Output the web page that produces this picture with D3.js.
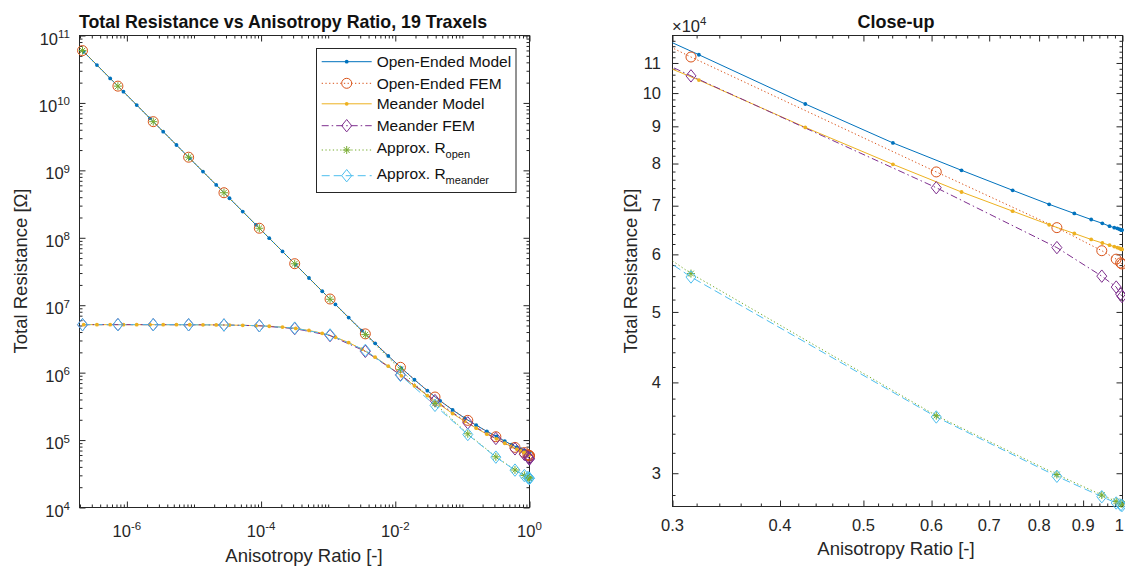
<!DOCTYPE html>
<html><head><meta charset="utf-8">
<script src="https://cdn.jsdelivr.net/npm/d3@7"></script>
<style>
body{margin:0;background:#fff}
svg{display:block}
text{font-family:"Liberation Sans",Arial,Helvetica,sans-serif}
</style>
</head><body>
<svg id="chart" width="1125" height="567"></svg>
<script>
// ---------------- data ----------------
const xModel = [2.272e-7, 3.580e-7, 5.642e-7, 8.892e-7, 1.4012e-6, 2.208e-6, 3.479e-6, 5.483e-6, 8.640e-6,
  1.3615e-5, 2.1455e-5, 3.381e-5, 5.328e-5, 8.394e-5, 1.3227e-4, 2.0842e-4, 3.284e-4, 5.173e-4, 8.150e-4,
  1.2837e-3, 2.0214e-3, 3.1817e-3, 5.005e-3, 7.862e-3, 0.012332, 0.019297, 0.030075, 0.046598, 0.07150,
  0.10821, 0.16052, 0.23154, 0.32194, 0.42797, 0.54107, 0.65007, 0.74538, 0.82185, 0.87907, 0.91971,
  0.94751, 0.96604, 0.97818, 0.98604, 0.99110, 0.99433, 0.99639, 0.99771, 0.99855];
const openModel = [5.739e10, 3.642e10, 2.311e10, 1.4665e10, 9.306e9, 5.906e9, 3.748e9, 2.378e9, 1.5094e9,
  9.579e8, 6.079e8, 3.858e8, 2.4486e8, 1.5547e8, 9.870e7, 6.268e7, 3.982e7, 2.532e7, 1.6115e7,
  1.0274e7, 6.566e6, 4.213e6, 2.719e6, 1.7715e6, 1.1688e6, 7.850e5, 5.398e5, 3.820e5, 2.7955e5,
  2.1178e5, 1.6613e5, 1.3477e5, 1.129e5, 9.66e4, 8.54e4, 7.83e4, 7.35e4, 7.03e4, 6.83e4, 6.70e4,
  6.62e4, 6.56e4, 6.53e4, 6.515e4, 6.50e4, 6.49e4, 6.485e4, 6.48e4, 6.48e4];
const meanderModel = [5.1496e6, 5.1493e6, 5.1489e6, 5.1482e6, 5.1471e6, 5.1453e6, 5.1425e6, 5.1382e6, 5.1313e6,
  5.1205e6, 5.1036e6, 5.0773e6, 5.0362e6, 4.9730e6, 4.8765e6, 4.7321e6, 4.5214e6, 4.2259e6, 3.8330e6,
  3.3463e6, 2.7938e6, 2.2252e6, 1.6961e6, 1.2482e6, 8.9756e5, 6.3941e5, 4.5742e5, 3.3237e5, 2.4749e5,
  1.8970e5, 1.5000e5, 1.2236e5, 1.042e5, 8.97e4, 7.98e4, 7.31e4, 6.88e4, 6.59e4, 6.41e4, 6.29e4,
  6.22e4, 6.177e4, 6.149e4, 6.131e4, 6.12e4, 6.11e4, 6.105e4, 6.10e4, 6.095e4];

const xFem = [2.183e-7, 7.35e-7, 2.472e-6, 8.32e-6, 2.799e-5, 9.418e-5, 3.168e-4, 1.0654e-3, 3.577e-3,
  0.011935, 0.03906, 0.1203, 0.3152, 0.6076, 0.8390, 0.9461, 0.9833, 0.99499, 0.99851];
const openFem = [5.973e10, 1.774e10, 5.275e9, 1.567e9, 4.659e8, 1.386e8, 4.128e7, 1.236e7, 3.76e6,
  1.20e6, 4.35e5, 1.96e5, 1.121e5, 7.79e4, 6.53e4, 6.07e4, 5.91e4, 5.84e4, 5.82e4];
const meanderFem = [5.150e6, 5.149e6, 5.145e6, 5.132e6, 5.09e6, 4.96e6, 4.50e6, 3.55e6, 2.07e6,
  9.3e5, 3.85e5, 1.80e5, 1.056e5, 7.41e4, 6.13e4, 5.60e4, 5.41e4, 5.29e4, 5.25e4];
const approxOpen = [5.973e10, 1.774e10, 5.275e9, 1.567e9, 4.659e8, 1.3847e8, 4.118e7, 1.2255e7, 3.661e6,
  1.108e6, 3.495e5, 1.2385e5, 5.646e4, 3.60e4, 2.988e4, 2.80e4, 2.744e4, 2.727e4, 2.722e4];
const approxMeander = [5.150e6, 5.149e6, 5.145e6, 5.133e6, 5.094e6, 4.965e6, 4.578e6, 3.626e6, 2.140e6,
  9.12e5, 3.273e5, 1.209e5, 5.585e4, 3.585e4, 2.971e4, 2.785e4, 2.730e4, 2.713e4, 2.708e4];

const seriesNames = ["Open-Ended Model", "Open-Ended FEM", "Meander Model", "Meander FEM", "Approx. R", "Approx. R"];
const seriesSubs = ["", "", "", "", "open", "meander"];

// tick labels
const leftXTicks = [1e-6, 1e-4, 1e-2, 1];
const leftXTickExp = ["-6", "-4", "-2", "0"];
const leftYTicks = [1e4, 1e5, 1e6, 1e7, 1e8, 1e9, 1e10, 1e11];
const leftYTickExp = ["4", "5", "6", "7", "8", "9", "10", "11"];
const rightXTicks = [0.3, 0.4, 0.5, 0.6, 0.7, 0.8, 0.9, 1];
const rightXTickLabels = ["0.3", "0.4", "0.5", "0.6", "0.7", "0.8", "0.9", "1"];
const rightYTicks = [3e4, 4e4, 5e4, 6e4, 7e4, 8e4, 9e4, 1e5, 1.1e5];
const rightYTickLabels = ["3", "4", "5", "6", "7", "8", "9", "10", "11"];

const titles = ["Total Resistance vs Anisotropy Ratio, 19 Traxels", "Close-up"];
const xLabel = "Anisotropy Ratio [-]";
const yLabel = "Total Resistance [Ω]";

// ---------------- drawing ----------------
const INK = "#262626";
const svg = d3.select("#chart");
svg.append("rect").attr("width", 1125).attr("height", 567).attr("fill", "#fff");

const styles = [
  {color: "#0072BD", dash: null, marker: "dot"},
  {color: "#D95319", dash: "1.3,2.4", marker: "circle"},
  {color: "#EDB120", dash: null, marker: "dot"},
  {color: "#7E2F8E", dash: "7,3,1.5,3", marker: "diamond"},
  {color: "#77AC30", dash: "1.3,2.4", marker: "star"},
  {color: "#4DBEEE", dash: "8,4", marker: "diamond"}
];
const seriesData = [
  [xModel, openModel], [xFem, openFem], [xModel, meanderModel],
  [xFem, meanderFem], [xFem, approxOpen], [xFem, approxMeander]
];

function drawMarker(g, type, cx, cy, color) {
  if (type === "dot") {
    g.append("circle").attr("cx", cx).attr("cy", cy).attr("r", 1.9).attr("fill", color);
  } else if (type === "circle") {
    g.append("circle").attr("cx", cx).attr("cy", cy).attr("r", 5).attr("fill", "none")
      .attr("stroke", color).attr("stroke-width", 1);
  } else if (type === "diamond") {
    g.append("path").attr("d", `M${cx},${cy - 6.2}L${cx + 5},${cy}L${cx},${cy + 6.2}L${cx - 5},${cy}Z`)
      .attr("fill", "none").attr("stroke", color).attr("stroke-width", 1);
  } else if (type === "star") {
    const s = 4, d = 2.9;
    g.append("path").attr("d",
      `M${cx - s},${cy}L${cx + s},${cy}M${cx},${cy - s}L${cx},${cy + s}` +
      `M${cx - d},${cy - d}L${cx + d},${cy + d}M${cx - d},${cy + d}L${cx + d},${cy - d}`)
      .attr("fill", "none").attr("stroke", color).attr("stroke-width", 1);
  }
}

function tickMarks(g, scale, values, len, p, horizontal) {
  if (horizontal) {
    g.append("g").attr("transform", `translate(0,${p.y1})`)
      .call(d3.axisBottom(scale).tickValues(values).tickSize(-len).tickFormat(""));
    g.append("g").attr("transform", `translate(0,${p.y0})`)
      .call(d3.axisTop(scale).tickValues(values).tickSize(-len).tickFormat(""));
  } else {
    g.append("g").attr("transform", `translate(${p.x0},0)`)
      .call(d3.axisLeft(scale).tickValues(values).tickSize(-len).tickFormat(""));
    g.append("g").attr("transform", `translate(${p.x1},0)`)
      .call(d3.axisRight(scale).tickValues(values).tickSize(-len).tickFormat(""));
  }
  g.selectAll(".domain").remove();
  g.selectAll(".tick line").attr("stroke", INK).attr("stroke-width", 1);
}

function panel(p) {
  const g = svg.append("g");
  const xs = d3.scaleLog().domain(p.xDom).range([p.x0, p.x1]);
  const ys = d3.scaleLog().domain(p.yDom).range([p.y1, p.y0]);

  const tg = g.append("g");
  tickMarks(tg, xs, p.xMinor, 3, p, true);
  tickMarks(tg, xs, p.xMajor, 6, p, true);
  tickMarks(tg, ys, p.yMinor, 3, p, false);
  tickMarks(tg, ys, p.yMajor, 6, p, false);

  g.append("rect").attr("x", p.x0).attr("y", p.y0).attr("width", p.x1 - p.x0).attr("height", p.y1 - p.y0)
    .attr("fill", "none").attr("stroke", INK).attr("stroke-width", 1);

  svg.append("clipPath").attr("id", "clip" + p.id).append("rect")
    .attr("x", p.x0).attr("y", p.y0).attr("width", p.x1 - p.x0).attr("height", p.y1 - p.y0);

  const line = d3.line().x(d => xs(d[0])).y(d => ys(d[1]));
  const lg = g.append("g").attr("clip-path", `url(#clip${p.id})`);
  const mg = g.append("g");
  seriesData.forEach((sd, i) => {
    const st = styles[i];
    const pts = sd[0].map((x, k) => [x, sd[1][k]]);
    const path = lg.append("path").datum(pts).attr("d", line).attr("fill", "none")
      .attr("stroke", st.color).attr("stroke-width", 1);
    if (st.dash) path.attr("stroke-dasharray", st.dash);
    const sg = mg.append("g");
    pts.forEach(d => {
      if (d[0] >= p.xDom[0] && d[0] <= p.xDom[1] && d[1] >= p.yDom[0] && d[1] <= p.yDom[1]) {
        drawMarker(sg, st.marker, xs(d[0]), ys(d[1]), st.color);
      }
    });
  });
  return {g, xs, ys};
}

// ---- left panel ----
const L = {id: "L", x0: 79.5, x1: 529.5, y0: 35.5, y1: 507.5, xDom: [1.968e-7, 1], yDom: [1e4, 1e11]};
L.xMajor = leftXTicks; L.yMajor = leftYTicks;
L.xMinor = []; L.yMinor = [];
for (let n = -7; n <= -1; n++) for (let k = 1; k <= 9; k++) {
  const v = k * Math.pow(10, n);
  if (v >= L.xDom[0] && v < 1 && !(k === 1 && n % 2 === 0)) L.xMinor.push(v);
}
for (let n = 4; n <= 10; n++) for (let k = 2; k <= 9; k++) L.yMinor.push(k * Math.pow(10, n));
const PL = panel(L);

leftXTicks.forEach((v, i) => {
  const t = svg.append("text").attr("x", PL.xs(v)).attr("y", 536.5).attr("text-anchor", "middle")
    .attr("font-size", 16.5).attr("fill", INK);
  t.append("tspan").text("10");
  t.append("tspan").attr("font-size", 11.5).attr("dy", -7).text(leftXTickExp[i]);
});
leftYTicks.forEach((v, i) => {
  const t = svg.append("text").attr("x", 70).attr("y", PL.ys(v) + 9).attr("text-anchor", "end")
    .attr("font-size", 16.5).attr("fill", INK);
  t.append("tspan").text("10");
  t.append("tspan").attr("font-size", 11.5).attr("dy", -6.5).text(leftYTickExp[i]);
});

// ---- right panel ----
const R = {id: "R", x0: 672.5, x1: 1122.5, y0: 35.5, y1: 506.5, xDom: [0.3, 1], yDom: [2.7e4, 1.2e5]};
R.xMajor = rightXTicks; R.yMajor = rightYTicks;
R.xMinor = []; R.yMinor = [];
for (let i = 16; i <= 49; i++) if (i % 5 !== 0) R.xMinor.push(i / 50);
for (let j = 14; j <= 59; j++) if (j % 5 !== 0) R.yMinor.push(j * 2000);
const PR = panel(R);

rightXTicks.forEach((v, i) => {
  const last = i === rightXTicks.length - 1;
  svg.append("text").attr("x", last ? 1124 : PR.xs(v)).attr("y", 531)
    .attr("text-anchor", last ? "end" : "middle")
    .attr("font-size", 16.5).attr("fill", INK).text(rightXTickLabels[i]);
});
rightYTicks.forEach((v, i) => {
  svg.append("text").attr("x", 661).attr("y", PR.ys(v) + 5.8).attr("text-anchor", "end")
    .attr("font-size", 16.5).attr("fill", INK).text(rightYTickLabels[i]);
});
{
  const t = svg.append("text").attr("x", 672).attr("y", 31.5).attr("font-size", 16.5).attr("fill", INK);
  t.append("tspan").text("×10");
  t.append("tspan").attr("font-size", 11.5).attr("dy", -6.5).text("4");
}

// ---- titles & labels ----
svg.append("text").attr("x", 283).attr("y", 28).attr("text-anchor", "middle").attr("font-size", 17.8)
  .attr("font-weight", "bold").attr("fill", "#111").text(titles[0]);
svg.append("text").attr("x", 896).attr("y", 28).attr("text-anchor", "middle").attr("font-size", 18)
  .attr("font-weight", "bold").attr("fill", "#111").text(titles[1]);
svg.append("text").attr("x", 304).attr("y", 561.5).attr("text-anchor", "middle").attr("font-size", 18.5)
  .attr("fill", INK).text(xLabel);
svg.append("text").attr("x", 896).attr("y", 555).attr("text-anchor", "middle").attr("font-size", 18.5)
  .attr("fill", INK).text(xLabel);
svg.append("text").attr("transform", "translate(26.5,271) rotate(-90)").attr("text-anchor", "middle")
  .attr("font-size", 18.5).attr("fill", INK).text(yLabel);
svg.append("text").attr("transform", "translate(636.5,271) rotate(-90)").attr("text-anchor", "middle")
  .attr("font-size", 18.5).attr("fill", INK).text(yLabel);

// ---- legend ----
const leg = svg.append("g");
leg.append("rect").attr("x", 316.5).attr("y", 48.5).attr("width", 199.5).attr("height", 144)
  .attr("fill", "#fff").attr("stroke", INK).attr("stroke-width", 1);
const rowY = [61.7, 83.3, 103.8, 125.7, 150, 175.7];
seriesNames.forEach((name, i) => {
  const st = styles[i], y = rowY[i];
  const ln = leg.append("line").attr("x1", 321.7).attr("x2", 371.7).attr("y1", y).attr("y2", y)
    .attr("stroke", st.color).attr("stroke-width", 1);
  if (st.dash) ln.attr("stroke-dasharray", st.dash);
  drawMarker(leg, st.marker, 346.7, y, st.color);
  const sub = seriesSubs[i];
  const t = leg.append("text").attr("x", 376.7).attr("y", y + (sub ? 3.3 : 5.6))
    .attr("font-size", 15.5).attr("fill", "#111");
  t.append("tspan").text(name);
  if (sub) t.append("tspan").attr("font-size", 11).attr("dy", 4.5).text(sub);
});
</script>
</body></html>
